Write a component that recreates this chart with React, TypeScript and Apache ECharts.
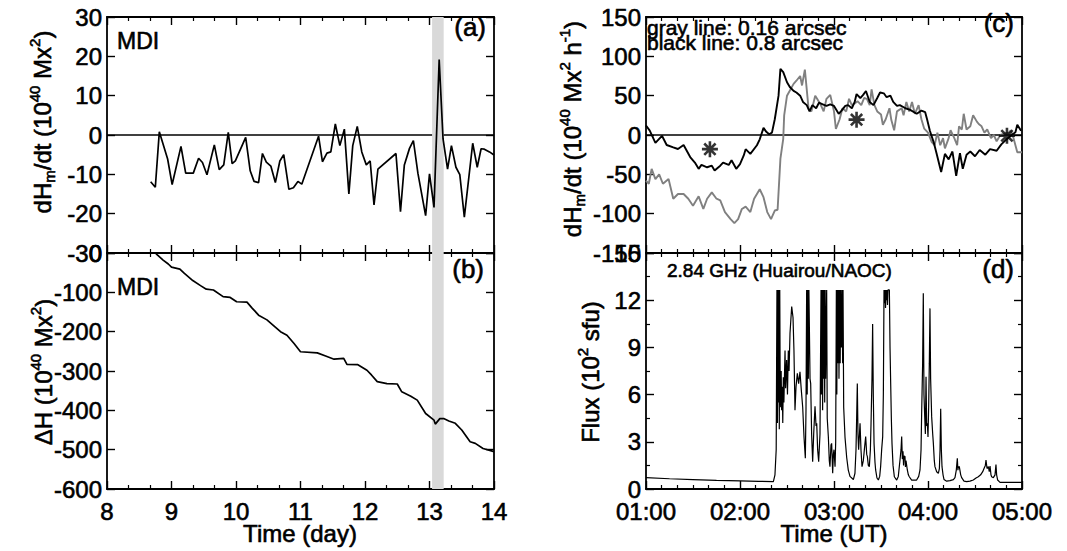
import React, { useEffect, useRef } from "react";
import * as echarts from "echarts";

// ---------- data ----------
// (a) MDI helicity injection rate, [day, 1e40 Mx^2 per ...]
const mdiRate: [number, number][] = [
  [8.677, -11.9], [8.749, -13.3], [8.811, 0.8], [8.94, -6.1], [9.01, -12.6], [9.147, -2.9],
  [9.22, -9.7], [9.30, -9.7], [9.338, -9.7], [9.42, -5.9], [9.48, -7.0], [9.55, -10.1],
  [9.664, -2.5], [9.74, -8.8], [9.81, -7.6], [9.88, 0.7], [9.94, -7.3], [9.99, -6.6],
  [10.15, -0.6], [10.22, -9.1], [10.28, -11.8], [10.35, -12.1], [10.41, -4.7], [10.47, -6.9],
  [10.54, -7.9], [10.61, -12.1], [10.68, -6.6], [10.74, -5.0], [10.82, -13.8], [10.89, -13.4],
  [10.96, -11.8], [11.02, -12.5], [11.28, -0.3], [11.34, -6.8], [11.41, -4.6], [11.47, -4.3],
  [11.54, 2.8], [11.61, -2.7], [11.68, 1.5], [11.75, -15.0], [11.81, -2.7], [11.88, 2.2],
  [11.95, -4.3], [12.02, -7.6], [12.08, -6.6], [12.14, -17.8], [12.2, -8.7], [12.48, -4.7],
  [12.55, -19.5], [12.61, -7.6], [12.69, -3.4], [12.75, -1.4], [12.82, -9.7], [12.94, -20.5],
  [13.0, -9.9], [13.07, -18.4], [13.15, 19.2], [13.21, -1.0], [13.28, -8.7], [13.34, -2.7],
  [13.41, -8.2], [13.47, -10.1], [13.54, -20.9], [13.67, -2.1], [13.74, -8.2], [13.8, -3.5],
  [13.85, -3.6], [13.93, -4.3], [14.0, -5.1],
];

// (b) MDI accumulated helicity
const mdiAccum: [number, number][] = [
  [8.66, 18], [8.72, 5], [8.78, -5], [8.87, -18], [8.95, -28], [9.0, -36], [9.13, -41],
  [9.2, -52], [9.33, -70], [9.45, -83], [9.54, -92], [9.65, -94], [9.8, -111], [9.91, -113],
  [10.01, -124], [10.17, -125], [10.25, -140], [10.35, -158], [10.48, -170], [10.6, -187],
  [10.69, -200], [10.79, -209], [10.9, -230], [11.0, -251], [11.26, -254], [11.39, -262],
  [11.52, -270], [11.67, -268], [11.72, -283], [11.89, -284], [12.03, -298], [12.1, -310],
  [12.19, -327], [12.34, -332], [12.5, -333], [12.57, -353], [12.71, -364], [12.81, -374],
  [12.94, -408], [13.07, -425], [13.09, -435], [13.16, -421], [13.22, -421], [13.3, -427],
  [13.4, -433], [13.5, -450], [13.63, -480], [13.71, -484], [13.83, -497], [14.0, -505],
];

const flareBand = [13.04, 13.22];

// (c) helicity rate, hours UT
const blackLine: [number, number][] = [
  [1.0, 12], [1.04, 5.5], [1.1, -10], [1.17, -1], [1.22, -12.7], [1.29, -15.7], [1.34, -17.8],
  [1.4, -12.7], [1.47, -28], [1.52, -35], [1.56, -43], [1.59, -38], [1.65, -41], [1.7, -39],
  [1.73, -45], [1.79, -39], [1.82, -35], [1.88, -38], [1.91, -32], [1.96, -43], [2.0, -37],
  [2.04, -26], [2.06, -18], [2.11, -24], [2.18, -13], [2.21, -5.5], [2.25, 9], [2.28, 4],
  [2.31, 1], [2.34, 3], [2.37, 20], [2.41, 50], [2.43, 84], [2.46, 80], [2.5, 67], [2.53, 61],
  [2.57, 56], [2.6, 54], [2.64, 50], [2.67, 42], [2.71, 38], [2.74, 30], [2.77, 38], [2.81, 34],
  [2.84, 41], [2.88, 39], [2.92, 37], [2.96, 39], [3.0, 37], [3.05, 27], [3.08, 31], [3.12, 37],
  [3.15, 38], [3.19, 34], [3.22, 42], [3.24, 52], [3.28, 47], [3.31, 51], [3.34, 56], [3.38, 42],
  [3.42, 38], [3.46, 47], [3.49, 54], [3.53, 53], [3.56, 48], [3.6, 50], [3.63, 42], [3.67, 37],
  [3.7, 38], [3.76, 34], [3.81, 32], [3.88, 27], [3.93, 31], [3.97, 29], [3.99, 20], [4.02, 5.5],
  [4.06, -9], [4.09, -23], [4.14, -47], [4.18, -24], [4.22, -31], [4.26, -21], [4.3, -52],
  [4.34, -23], [4.37, -43], [4.41, -25], [4.45, -21], [4.5, -27], [4.55, -19], [4.61, -25],
  [4.66, -18], [4.73, -20], [4.78, -12], [4.84, -5], [4.89, 0], [4.93, 3.5], [4.95, 13], [4.99, 5.5],
];

const grayLine: [number, number][] = [
  [1.0, -58], [1.03, -62], [1.06, -43], [1.1, -56], [1.14, -50], [1.18, -62], [1.24, -56],
  [1.29, -81], [1.34, -75], [1.4, -75], [1.45, -81], [1.5, -90], [1.56, -78], [1.61, -94],
  [1.65, -81], [1.7, -73], [1.75, -81], [1.79, -83], [1.84, -98], [1.9, -107], [1.94, -112],
  [1.98, -107], [2.02, -94], [2.06, -91], [2.11, -98], [2.15, -81], [2.21, -69], [2.25, -79],
  [2.29, -98], [2.33, -107], [2.37, -96], [2.4, -95], [2.43, -30], [2.46, -5], [2.47, 25],
  [2.5, 50], [2.57, 65], [2.6, 69], [2.64, 75], [2.66, 63], [2.69, 83], [2.73, 33], [2.76, 30],
  [2.8, 50], [2.82, 46], [2.86, 38], [2.89, 30], [2.92, 46], [2.96, 51], [3.0, 30], [3.02, 7.6],
  [3.06, 20], [3.09, 34], [3.13, 30], [3.16, 46], [3.19, 38], [3.22, 40], [3.25, 43], [3.29, 38],
  [3.32, 47], [3.35, 46], [3.38, 38], [3.4, 58], [3.43, 38], [3.46, 30], [3.5, 26], [3.52, 13],
  [3.55, 20], [3.59, 34], [3.61, 19], [3.64, 6], [3.67, 30], [3.72, 34], [3.74, 25], [3.77, 42],
  [3.8, 30], [3.83, 42], [3.86, 27], [3.9, 38], [3.93, 20], [3.96, 8], [4.0, 3], [4.04, -9],
  [4.07, -13], [4.1, 3], [4.13, -13], [4.16, -4], [4.18, -17], [4.22, -4], [4.24, 6], [4.28, -4],
  [4.31, -13], [4.33, 11], [4.36, 7], [4.38, 27], [4.41, 7], [4.45, 11], [4.48, 25], [4.52, 17],
  [4.54, 14], [4.57, 11], [4.6, 3], [4.63, 7], [4.67, -4], [4.7, 0], [4.73, -8], [4.77, 0],
  [4.82, 2], [4.86, 3], [4.88, 6], [4.91, -4], [4.95, -22], [5.0, -22],
];

const asterisks: [number, number][] = [[1.68, -18], [3.24, 19.5], [4.84, -1]];

// (d) 2.84 GHz flux, [hour UT, 1e2 sfu]
const flux: [number, number][] = [
  [1.0, 0.72], [1.25, 0.65], [1.5, 0.6], [1.75, 0.55], [2.0, 0.52], [2.2, 0.49], [2.355, 0.47],
  [2.372, 0.9], [2.385, 2.5], [2.393, 12.65], [2.398, 4.2], [2.403, 12.65], [2.408, 5.5],
  [2.413, 12.65], [2.418, 3.8], [2.423, 12.65], [2.428, 6.0], [2.433, 5.2], [2.438, 7.5],
  [2.443, 5.0], [2.45, 6.5], [2.455, 4.2], [2.461, 7.1], [2.467, 5.5], [2.479, 8.8], [2.485, 6.4],
  [2.496, 8.2], [2.505, 6.0], [2.514, 8.8], [2.522, 7.5], [2.532, 9.9], [2.55, 11.6], [2.564, 10.9],
  [2.574, 8.8], [2.585, 5.0], [2.596, 6.5], [2.61, 7.35], [2.624, 6.7], [2.638, 7.45], [2.652, 6.3],
  [2.667, 5.2], [2.681, 3.3], [2.695, 1.95], [2.702, 5.0], [2.709, 12.65], [2.715, 6.0],
  [2.72, 12.65], [2.727, 7.0], [2.733, 12.65], [2.738, 12.65], [2.745, 7.0], [2.752, 6.7],
  [2.762, 3.5], [2.773, 1.74], [2.784, 3.5], [2.798, 5.26], [2.809, 4.0], [2.816, 4.17],
  [2.826, 2.5], [2.837, 1.74], [2.851, 3.5], [2.862, 12.65], [2.867, 6.0], [2.872, 12.65],
  [2.879, 5.0], [2.885, 12.65], [2.89, 7.0], [2.896, 12.65], [2.901, 5.5], [2.906, 12.65],
  [2.911, 7.0], [2.922, 12.65], [2.928, 4.5], [2.94, 3.3], [2.95, 1.8], [2.957, 1.42], [2.968, 2.8],
  [2.975, 2.9], [2.986, 1.0], [2.993, 2.2], [3.0, 2.5], [3.011, 1.42], [3.018, 3.0], [3.025, 12.65],
  [3.03, 6.0], [3.035, 12.65], [3.043, 8.0], [3.048, 12.65], [3.053, 7.0], [3.06, 12.65],
  [3.066, 8.0], [3.071, 12.65], [3.078, 9.0], [3.085, 12.65], [3.092, 8.0], [3.096, 12.65],
  [3.103, 5.2], [3.117, 3.3], [3.135, 2.0], [3.152, 1.2], [3.17, 0.8], [3.206, 0.6], [3.223, 1.0],
  [3.234, 2.5], [3.241, 4.5], [3.248, 6.7], [3.255, 3.5], [3.262, 2.5], [3.277, 4.17], [3.287, 2.5],
  [3.298, 1.42], [3.312, 1.8], [3.323, 2.5], [3.337, 3.33], [3.348, 2.2], [3.355, 2.06], [3.365, 1.5],
  [3.376, 1.42], [3.387, 2.5], [3.394, 4.17], [3.404, 7.0], [3.411, 10.49], [3.418, 6.0], [3.426, 2.9],
  [3.436, 1.7], [3.443, 1.21], [3.457, 0.7], [3.472, 0.57], [3.486, 0.8], [3.496, 1.42], [3.507, 2.5],
  [3.518, 3.33], [3.525, 6.0], [3.532, 12.65], [3.538, 11.8], [3.543, 12.65], [3.548, 11.5],
  [3.553, 12.65], [3.558, 12.0], [3.564, 12.65], [3.569, 11.7], [3.574, 12.65], [3.589, 12.65],
  [3.596, 9.0], [3.603, 6.72], [3.61, 4.5], [3.617, 2.9], [3.628, 1.5], [3.642, 0.78], [3.667, 0.57],
  [3.684, 0.8], [3.702, 1.84], [3.713, 2.5], [3.72, 3.33], [3.727, 1.9], [3.734, 2.4], [3.74, 1.5],
  [3.745, 2.1], [3.755, 2.06], [3.76, 1.4], [3.766, 1.8], [3.78, 1.21], [3.791, 0.9], [3.801, 0.78],
  [3.826, 0.57], [3.879, 0.57], [3.901, 0.8], [3.915, 1.21], [3.926, 2.5], [3.933, 5.0], [3.943, 8.0],
  [3.95, 12.44], [3.957, 6.0], [3.965, 4.6], [3.972, 3.5], [3.979, 7.14], [3.986, 4.0], [3.993, 4.17],
  [4.0, 3.3], [4.007, 5.2], [4.014, 8.0], [4.021, 11.48], [4.028, 7.0], [4.039, 4.6], [4.05, 3.5],
  [4.057, 2.9], [4.067, 1.8], [4.074, 1.42], [4.092, 1.1], [4.11, 1.0], [4.121, 1.3], [4.128, 2.5],
  [4.135, 5.1], [4.142, 2.5], [4.149, 1.42], [4.16, 0.9], [4.17, 0.61], [4.199, 0.5], [4.234, 0.53],
  [4.27, 0.6], [4.287, 0.72], [4.301, 1.2], [4.312, 1.95], [4.318, 1.2], [4.323, 1.4], [4.333, 1.42],
  [4.348, 0.9], [4.358, 0.72], [4.383, 0.5], [4.411, 0.47], [4.447, 0.5], [4.482, 0.57], [4.511, 0.7],
  [4.535, 0.78], [4.56, 0.9], [4.582, 1.1], [4.596, 1.3], [4.61, 1.5], [4.617, 1.84], [4.628, 1.3],
  [4.642, 1.42], [4.652, 1.1], [4.66, 1.46], [4.67, 0.9], [4.677, 0.78], [4.695, 0.72], [4.713, 0.9],
  [4.723, 1.55], [4.73, 0.9], [4.741, 0.57], [4.766, 0.42], [4.872, 0.42], [5.0, 0.42],
];

// ---------- styling ----------
const FONT = '"Liberation Sans", Arial, Helvetica, sans-serif';
const TICK_FS = 24;
const STROKE = 0.6;

function xAx(gridIndex: number, position: string, min: number, max: number, minorSplit: number, showLabel: boolean, fmt?: (v: number) => string) {
  return {
    type: "value", gridIndex, position, min, max, interval: 1,
    axisLine: { show: true, onZero: false, lineStyle: { color: "#000", width: 1.8 } },
    axisTick: { show: true, inside: true, length: 8, lineStyle: { color: "#000", width: 1.4 } },
    minorTick: { show: true, splitNumber: minorSplit, length: 4, lineStyle: { color: "#000", width: 1.2 } },
    axisLabel: {
      show: showLabel, color: "#000", fontSize: TICK_FS, fontFamily: FONT, margin: 10, formatter: fmt,
      textBorderColor: "#000", textBorderWidth: STROKE,
    },
    splitLine: { show: false },
    minorSplitLine: { show: false },
  };
}

function yAx(gridIndex: number, position: string, min: number, max: number, interval: number, showLabel: boolean, minorSplit = 0) {
  return {
    type: "value", gridIndex, position, min, max, interval,
    axisLine: { show: true, onZero: false, lineStyle: { color: "#000", width: 1.8 } },
    axisTick: { show: true, inside: true, length: 8, lineStyle: { color: "#000", width: 1.4 } },
    minorTick: { show: minorSplit > 0, splitNumber: minorSplit || 5, length: 4, lineStyle: { color: "#000", width: 1.2 } },
    axisLabel: {
      show: showLabel, color: "#000", fontSize: TICK_FS, fontFamily: FONT, margin: 5,
      textBorderColor: "#000", textBorderWidth: STROKE,
    },
    splitLine: { show: false },
    minorSplitLine: { show: false },
  };
}

const hourFmt = (v: number) => "0" + v + ":00";

const tok = (size: number, extra: any = {}) => ({
  fontSize: size, fontFamily: FONT, fill: "#000", stroke: "#000", lineWidth: STROKE, ...extra,
});

const rich = {
  n: tok(24, { lineHeight: 30 }),
  sup: tok(15, { lineHeight: 13, verticalAlign: "top" }),
  sub: tok(15, { lineHeight: 13, verticalAlign: "bottom" }),
};

function label(text: string, x: number, y: number, size: number, align = "left") {
  return {
    type: "text", x, y, z: 100,
    style: {
      text, fontSize: size, fontFamily: FONT, fill: "#000", stroke: "#000", lineWidth: STROKE,
      align, verticalAlign: "middle",
    },
  };
}

function vLabel(text: string, x: number, y: number) {
  return {
    type: "text", x, y, rotation: Math.PI / 2, z: 100,
    style: { text, rich, align: "center", verticalAlign: "middle" },
  };
}

export default function App() {
  const ref = useRef<HTMLDivElement>(null);

  useEffect(() => {
    if (!ref.current) return;
    const chart = echarts.init(ref.current, null, { renderer: "svg" });

    const band = {
      silent: true,
      z: 2,
      itemStyle: { color: "#d9d9d9" },
      data: [[{ xAxis: flareBand[0] }, { xAxis: flareBand[1] }]],
    };

    const asteriskPath = "path://M10,0L10,20M0,10L20,10M2.93,2.93L17.07,17.07M2.93,17.07L17.07,2.93";

    const option: any = {
      animation: false,
      backgroundColor: "#fff",
      grid: [
        { left: 107, top: 17, width: 387, height: 236 },
        { left: 107, top: 253, width: 387, height: 236 },
        { left: 646, top: 17, width: 376, height: 236 },
        { left: 646, top: 253, width: 376, height: 236 },
      ],
      xAxis: [
        xAx(0, "bottom", 8, 14, 3, false),
        xAx(0, "top", 8, 14, 3, false),
        xAx(1, "bottom", 8, 14, 3, true),
        xAx(1, "top", 8, 14, 3, false),
        xAx(2, "bottom", 1, 5, 6, false, hourFmt),
        xAx(2, "top", 1, 5, 6, false, hourFmt),
        xAx(3, "bottom", 1, 5, 6, true, hourFmt),
        xAx(3, "top", 1, 5, 6, false, hourFmt),
      ],
      yAxis: [
        yAx(0, "left", -30, 30, 10, true),
        yAx(0, "right", -30, 30, 10, false),
        yAx(1, "left", -600, 0, 100, true),
        yAx(1, "right", -600, 0, 100, false),
        yAx(2, "left", -150, 150, 50, true),
        yAx(2, "right", -150, 150, 50, false),
        yAx(3, "left", 0, 15, 3, true, 2),
        yAx(3, "right", 0, 15, 3, false, 2),
      ],
      series: [
        {
          type: "line", xAxisIndex: 0, yAxisIndex: 0, z: 1, silent: true,
          data: [[8, 0], [14, 0]], showSymbol: false, symbol: "none",
          lineStyle: { color: "#000", width: 1.6 },
        },
        {
          type: "line", xAxisIndex: 0, yAxisIndex: 0, z: 3, data: mdiRate,
          showSymbol: false, symbol: "none", lineStyle: { color: "#000", width: 1.7 },
          markArea: band,
        },
        {
          type: "line", xAxisIndex: 2, yAxisIndex: 2, z: 3, data: mdiAccum,
          showSymbol: false, symbol: "none", lineStyle: { color: "#000", width: 1.7 },
          markArea: band,
        },
        {
          type: "line", xAxisIndex: 4, yAxisIndex: 4, z: 1, silent: true,
          data: [[1, 0], [5, 0]], showSymbol: false, symbol: "none",
          lineStyle: { color: "#000", width: 1.6 },
        },
        {
          type: "line", xAxisIndex: 4, yAxisIndex: 4, z: 3, data: grayLine,
          showSymbol: false, symbol: "none", lineStyle: { color: "#808080", width: 1.9 },
        },
        {
          type: "line", xAxisIndex: 4, yAxisIndex: 4, z: 4, data: blackLine,
          showSymbol: false, symbol: "none", lineStyle: { color: "#000", width: 1.9 },
        },
        {
          type: "scatter", xAxisIndex: 4, yAxisIndex: 4, z: 5, data: asterisks,
          symbol: asteriskPath, symbolSize: 16,
          itemStyle: { color: "rgba(0,0,0,0)", borderColor: "#000", borderWidth: 2.6 },
        },
        {
          type: "line", xAxisIndex: 6, yAxisIndex: 6, z: 3, data: flux,
          showSymbol: false, symbol: "none", lineStyle: { color: "#000", width: 1.2 },
        },
      ],
      graphic: [
        label("MDI", 117, 41, 23),
        label("MDI", 117, 287, 23),
        label("(a)", 486, 27, 26, "right"),
        label("(b)", 484, 269, 26, "right"),
        label("(c)", 1014, 23, 26, "right"),
        label("(d)", 1014, 269, 26, "right"),
        label("gray line: 0.16 arcsec", 647, 27, 21),
        label("black line: 0.8 arcsec", 647, 42, 21),
        label("2.84 GHz (Huairou/NAOC)", 667, 270, 19),
        label("Time (day)", 300, 533, 24, "center"),
        label("Time (UT)", 834, 533, 24, "center"),
        vLabel("{n|dH}{sub|m}{n|/dt (10}{sup|40}{n| Mx}{sup|2}{n|)}", 42, 122),
        vLabel("{n|ΔH (10}{sup|40}{n| Mx}{sup|2}{n|)}", 43, 372),
        vLabel("{n|dH}{sub|m}{n|/dt (10}{sup|40}{n| Mx}{sup|2}{n| h}{sup|-1}{n|)}", 572, 129),
        vLabel("{n|Flux (10}{sup|2}{n| sfu)}", 590, 372),
      ],
    };

    chart.setOption(option);
    return () => chart.dispose();
  }, []);

  return (
    <div
      ref={ref}
      style={{ position: "absolute", left: 0, top: 0, width: 1067, height: 551, background: "#fff" }}
    />
  );
}
